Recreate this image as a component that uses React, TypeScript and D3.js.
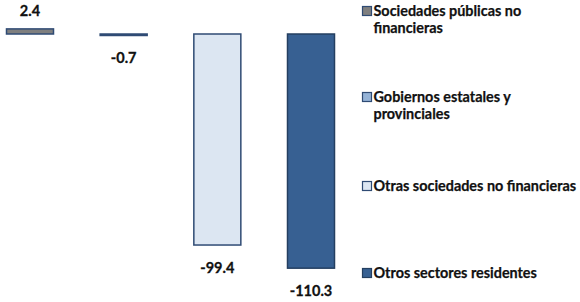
import React, { useEffect, useRef } from 'react';
import * as d3 from 'd3';

const categories = [
  'Sociedades públicas no financieras',
  'Gobiernos estatales y provinciales',
  'Otras sociedades no financieras',
  'Otros sectores residentes',
];
const values = [2.4, -0.7, -99.4, -110.3];
const legendLines = [
  ['Sociedades públicas no', 'financieras'],
  ['Gobiernos estatales y', 'provinciales'],
  ['Otras sociedades no financieras'],
  ['Otros sectores residentes'],
];
const fills = ['#7f7f7f', '#95b3d7', '#dce6f2', '#376092'];
const strokes = ['#2f4b74', '#2f4b74', '#2f4b74', '#243f60'];

const App: React.FC = () => {
  const svgRef = useRef<SVGSVGElement | null>(null);

  useEffect(() => {
    if (!svgRef.current) return;
    const svg = d3.select(svgRef.current);
    svg.selectAll('*').remove();

    const font = 'Lato, "Open Sans", sans-serif';

    // scales
    const x = d3.scalePoint<string>().domain(categories).range([30, 311]);
    const y = d3.scaleLinear().domain([0, -100]).range([34, 246.3]);
    const barW = 47;

    svg.append('g')
      .selectAll('rect')
      .data(values)
      .join('rect')
      .attr('x', (_, i) => x(categories[i])! - barW / 2)
      .attr('y', d => y(Math.max(0, d)))
      .attr('width', barW)
      .attr('height', d => Math.max(Math.abs(y(d) - y(0)), 1))
      .attr('fill', (_, i) => fills[i])
      .attr('stroke', (_, i) => strokes[i])
      .attr('stroke-width', 1.5);

    // value labels
    svg.append('g')
      .selectAll('text')
      .data(values)
      .join('text')
      .attr('x', (_, i) => x(categories[i])!)
      .attr('y', d => d >= 0 ? y(d) - 12.5 : y(d) + 27.5)
      .attr('text-anchor', 'middle')
      .attr('font-family', font)
      .attr('font-weight', 'bold')
      .attr('font-size', 14.5)
      .attr('stroke', '#111')
      .attr('stroke-width', 0.3)
      .attr('fill', '#111')
      .text(d => d.toFixed(1));

    // legend
    const legendY = [11, 97, 186, 273];
    const lg = svg.append('g');
    legendLines.forEach((lines, i) => {
      const g = lg.append('g').attr('transform', `translate(362,${legendY[i]})`);
      g.append('rect')
        .attr('x', 0.5)
        .attr('y', -4.5)
        .attr('width', 9)
        .attr('height', 9)
        .attr('fill', fills[i])
        .attr('stroke', strokes[i])
        .attr('stroke-width', 1.2);
      const t = g.append('text')
        .attr('font-family', font)
        .attr('font-weight', 'bold')
        .attr('font-size', 14.4)
        .attr('stroke', '#111')
        .attr('stroke-width', 0.25)
        .attr('fill', '#111');
      lines.forEach((line, j) => {
        t.append('tspan')
          .attr('x', 11.5)
          .attr('y', 5 + j * 16.5)
          .text(line);
      });
    });
  }, []);

  return (
    <svg
      ref={svgRef}
      width={580}
      height={302}
      style={{ position: 'absolute', left: 0, top: 0, background: '#fff' }}
    ></svg>
  );
};

export default App;
